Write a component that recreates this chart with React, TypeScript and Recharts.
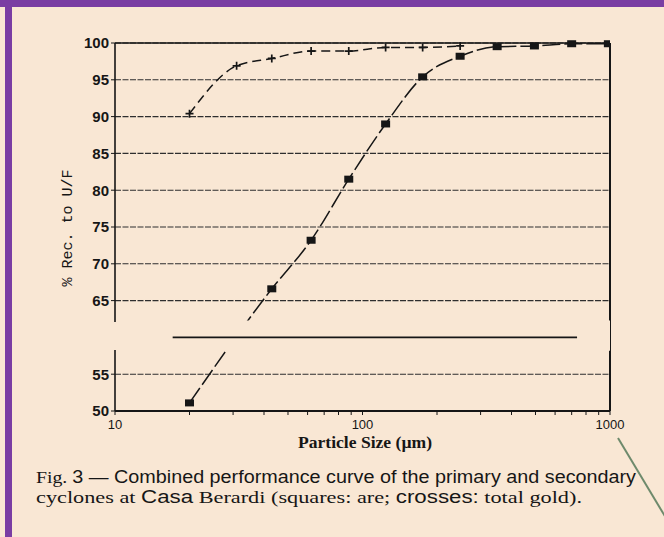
import React from 'react';
import { LineChart, Line, XAxis, YAxis, CartesianGrid, ReferenceLine, ReferenceArea } from 'recharts';

const oreSize = [20, 43, 62, 88, 124, 175, 248, 350, 495, 700, 985];
const oreRec = [51.1, 66.6, 73.2, 81.5, 89.0, 95.4, 98.2, 99.5, 99.6, 99.9, 99.9];
const goldSize = [20, 31, 43, 62, 88, 124, 175, 248];
const goldRec = [90.4, 96.9, 97.9, 98.9, 98.9, 99.4, 99.4, 99.6];
const xTicks = [10, 20, 30, 40, 50, 60, 70, 80, 90, 100, 200, 300, 400, 500, 600, 700, 800, 900, 1000];
const xLabels = ['10', '100', '1000'];
const yTicks = [50, 55, 65, 70, 75, 80, 85, 90, 95, 100];

const BG = '#f9e7d4';
const INK = '#161616';
const SERIF = 'Liberation Serif, Times New Roman, serif';
const SANS = 'Liberation Sans, Arial, sans-serif';

const oreData = oreSize.map((s, i) => ({ size: s, rec: oreRec[i] }));
const goldData = goldSize.map((s, i) => ({ size: s, rec: goldRec[i] }));

const SquareDot = (props: any) => {
  const { cx, cy, index } = props;
  if (cx == null || cy == null) return null;
  return <rect key={`sq${index}`} x={cx - 4.5} y={cy - 3.5} width={9} height={7} fill={INK} />;
};

const CrossDot = (props: any) => {
  const { cx, cy, index } = props;
  if (cx == null || cy == null) return null;
  return (
    <path key={`cr${index}`} d={`M${cx - 4},${cy}h8M${cx},${cy - 4}v8`} stroke={INK} strokeWidth={1.7} fill="none" />
  );
};

const xFmt = (v: number) => {
  const s = String(v);
  return xLabels.includes(s) ? s : '';
};

export default function App() {
  return (
    <div style={{ position: 'absolute', left: 0, top: 0, width: 664, height: 537, background: BG, overflow: 'hidden' }}>
      <div style={{ position: 'absolute', left: 0, top: 0, width: 664, height: 7, background: '#7a3da3' }} />
      <div style={{ position: 'absolute', left: 5, top: 0, width: 7, height: 537, background: '#7a3da3' }} />
      <div style={{ position: 'absolute', left: 0, top: 0 }}>
        <LineChart width={664} height={537} margin={{ top: 43, right: 54, left: 0, bottom: 96 }}>
          <CartesianGrid vertical={false} stroke="#2e2e2e" strokeDasharray="6 1.5" strokeWidth={1.1} />
          <XAxis
            dataKey="size"
            type="number"
            scale="log"
            domain={[10, 1000]}
            ticks={xTicks}
            interval={0}
            tickFormatter={xFmt}
            allowDataOverflow
            height={30}
            tickSize={4}
            tickMargin={5}
            axisLine={{ stroke: INK, strokeWidth: 2 }}
            tickLine={{ stroke: INK }}
            tick={{ fill: INK, fontSize: 13, fontFamily: SANS }}
          />
          <YAxis
            type="number"
            domain={[50, 100]}
            ticks={yTicks}
            interval={0}
            width={115}
            tickSize={4}
            tickMargin={2}
            axisLine={false}
            tickLine={{ stroke: INK }}
            tick={{ fill: INK, fontSize: 15, fontWeight: 600, fontFamily: SANS }}
          />
          <ReferenceLine y={100} stroke={INK} strokeWidth={1.6} />
          <ReferenceLine x={1000} stroke={INK} strokeWidth={2} />
          <Line
            data={goldData}
            dataKey="rec"
            type="monotone"
            stroke={INK}
            strokeWidth={1.5}
            strokeDasharray="9 5"
            dot={CrossDot}
            activeDot={false}
            isAnimationActive={false}
          />
          <Line
            data={oreData}
            dataKey="rec"
            type="monotone"
            stroke={INK}
            strokeWidth={1.5}
            strokeDasharray="18 4"
            dot={SquareDot}
            activeDot={false}
            isAnimationActive={false}
          />
          <ReferenceArea x1={10} x2={1000} y1={58.2} y2={62.3} fill={BG} fillOpacity={1} stroke="none" zIndex={900} />
          <ReferenceLine
            segment={[{ x: 17.1, y: 60 }, { x: 736, y: 60 }]}
            stroke={INK}
            strokeWidth={1.6}
            zIndex={950}
          />
          <ReferenceLine segment={[{ x: 10, y: 62.1 }, { x: 10, y: 100 }]} stroke={INK} strokeWidth={1.6} zIndex={950} />
          <ReferenceLine segment={[{ x: 10, y: 50 }, { x: 10, y: 58.3 }]} stroke={INK} strokeWidth={1.6} zIndex={950} />
        </LineChart>
      </div>
      <svg width={664} height={537} style={{ position: 'absolute', left: 0, top: 0, pointerEvents: 'none' }}>
        <text
          transform="translate(72,228) rotate(-90)"
          textAnchor="middle"
          fontFamily="Liberation Mono, Courier New, monospace"
          fontSize={15}
          fill={INK}
        >
          % Rec. to U/F
        </text>
        <text x={365} y={448} textAnchor="middle" fontFamily={SERIF} fontSize={16} fontWeight={700} fill={INK} textLength={134} lengthAdjust="spacingAndGlyphs">
          Particle Size (µm)
        </text>
        <text x={36} y={483} fontSize={17.5} fill={INK} textLength={600} lengthAdjust="spacingAndGlyphs">
          <tspan fontFamily={SERIF}>Fig. </tspan>
          <tspan fontFamily={SANS}>3 — Combined performance curve of the primary and secondary</tspan>
        </text>
        <text x={36} y={503} fontSize={17.5} fill={INK} textLength={546} lengthAdjust="spacingAndGlyphs">
          <tspan fontFamily={SERIF}>cyclones at </tspan>
          <tspan fontFamily={SANS}>Casa</tspan>
          <tspan fontFamily={SERIF}> Berardi (squares: are; </tspan>
          <tspan fontFamily={SANS}>crosses:</tspan>
          <tspan fontFamily={SERIF}> total gold).</tspan>
        </text>
        <line x1={618} y1={438} x2={666} y2={518} stroke="#6e8a6c" strokeWidth={2} />
      </svg>
    </div>
  );
}
